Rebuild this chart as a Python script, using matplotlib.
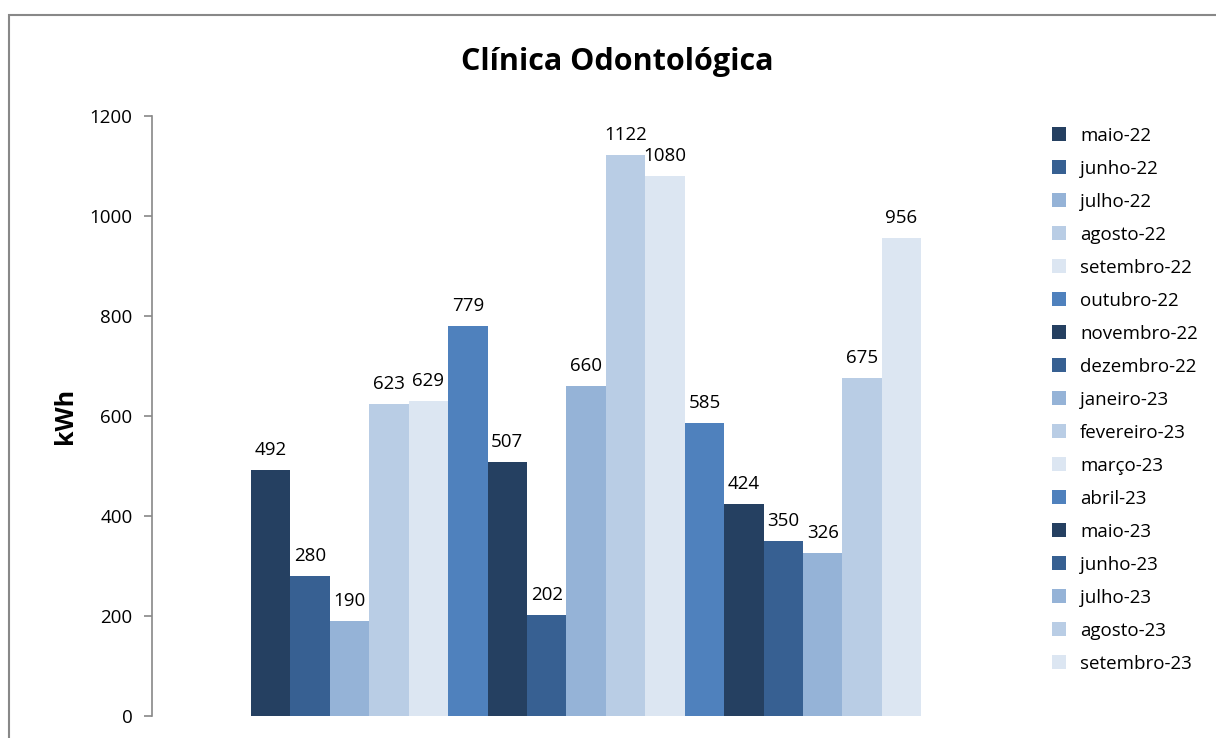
import matplotlib.pyplot as plt
from matplotlib.patches import Rectangle

# dados
meses = ["maio-22", "junho-22", "julho-22", "agosto-22", "setembro-22", "outubro-22",
         "novembro-22", "dezembro-22", "janeiro-23", "fevereiro-23", "março-23", "abril-23",
         "maio-23", "junho-23", "julho-23", "agosto-23", "setembro-23"]
consumo = [492, 280, 190, 623, 629, 779, 507, 202, 660, 1122, 1080, 585, 424, 350, 326, 675, 956]
paleta = ["#254061", "#376092", "#95B3D7", "#B9CDE5", "#DCE6F2", "#4F81BD"]

plt.rcParams['font.family'] = ['Open Sans', 'DejaVu Sans']

fig = plt.figure(figsize=(12.16, 7.38), dpi=100)
ax = fig.add_axes([0.125, 0.0298, 0.714, 0.8132])

n = len(meses)
largura = 1.0 / n * (670 / 868)
inicio = -0.5 + (1 - largura * n) / 2
for i, (m, v) in enumerate(zip(meses, consumo)):
    x = inicio + largura * (i + 0.5)
    ax.bar(x, v, width=largura, color=paleta[i % len(paleta)], label=m)
    ax.annotate(str(v), (x, v), xytext=(0, 8), textcoords="offset points",
                ha="center", va="bottom", fontsize=13.5)

ax.set_xlim(-0.5, 0.5)
ax.set_ylim(0, 1200)
ax.set_yticks(range(0, 1201, 200))
ax.set_xticks([])
for s in ["top", "right", "bottom"]:
    ax.spines[s].set_visible(False)
ax.spines["left"].set_color("#888888")
ax.spines["left"].set_linewidth(1.2)
ax.tick_params(axis="y", length=6, color="#888888", width=1.2, labelsize=13.5, pad=8)
ax.set_ylabel("kWh", fontsize=18, fontweight="bold", labelpad=8)

fig.text(0.508, 0.916, "Clínica Odontológica", ha="center", va="center",
         fontsize=22, fontweight="bold")

ax.legend(loc="upper left", bbox_to_anchor=(1.017, 1.01), frameon=False,
          fontsize=13.5, handlelength=0.75, handleheight=0.75, labelspacing=0.80,
          handletextpad=0.75)

# borda do gráfico
fig.patches.append(Rectangle((9 / 1216, -0.1), 1.2, 1 - 15 / 738 + 0.1,
                             transform=fig.transFigure, fill=False,
                             edgecolor="#888888", linewidth=1.5))

fig.savefig("out.png")
